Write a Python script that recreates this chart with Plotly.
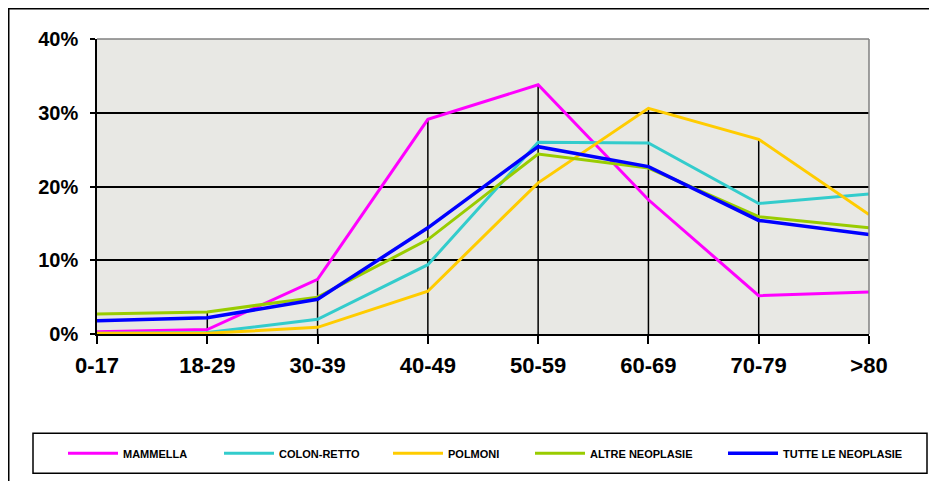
import plotly.graph_objects as go

# ---------------- data ----------------
age_groups = ["0-17", "18-29", "30-39", "40-49", "50-59", "60-69", "70-79", ">80"]
mammella = [0.3, 0.6, 7.4, 29.1, 33.8, 18.2, 5.2, 5.7]
colon_retto = [0.1, 0.2, 2.0, 9.4, 26.0, 25.9, 17.7, 19.0]
polmoni = [0.1, 0.1, 0.9, 5.8, 20.5, 30.6, 26.4, 16.2]
altre_neoplasie = [2.7, 3.0, 5.0, 12.8, 24.4, 22.5, 15.9, 14.4]
tutte_neoplasie = [1.8, 2.2, 4.7, 14.4, 25.4, 22.7, 15.4, 13.5]
y_ticks = [0, 10, 20, 30, 40]
y_tick_labels = ["0%", "10%", "20%", "30%", "40%"]

series = [
    ("MAMMELLA", mammella, "#FF00FF", 3, 91),
    ("COLON-RETTO", colon_retto, "#33CCCC", 3, 104),
    ("POLMONI", polmoni, "#FFCC00", 3, 77),
    ("ALTRE NEOPLASIE", altre_neoplasie, "#99CC00", 3, 128),
    ("TUTTE LE NEOPLASIE", tutte_neoplasie, "#0000FF", 3.5, 130),
]

# ---------------- layout geometry (pixels, page offset 8px by body margin) ----------------
OFF = 8
W, H = 937 - OFF, 481 - OFF
L, R = 97 - OFF, 869 - OFF
T, B = 39 - OFF, 334.5 - OFF
pw, ph = R - L, B - T


def px(xp):
    return (xp - L) / pw


def py(yp):
    return (B - yp) / ph


fig = go.Figure()

# drop lines from the highest value at each interior category
all_series = [mammella, colon_retto, polmoni, altre_neoplasie, tutte_neoplasie]
dx, dy = [], []
for i in range(1, len(age_groups) - 1):
    top = max(s[i] for s in all_series)
    dx += [age_groups[i], age_groups[i], None]
    dy += [0, top, None]
fig.add_trace(go.Scatter(x=dx, y=dy, mode="lines", line=dict(color="black", width=1.5),
                         showlegend=False, hoverinfo="skip"))

for name, vals, color, w, lw in series:
    fig.add_trace(go.Scatter(x=age_groups, y=vals, mode="lines", name=name,
                             line=dict(color=color, width=w), legendwidth=lw))

shapes = [
    # outer chart frame (cropped on right/bottom)
    dict(type="rect", xref="paper", yref="paper", x0=px(0.75), x1=px(W + 20), y0=py(H + 20), y1=py(0.75),
         line=dict(color="black", width=1.5), layer="below"),
    # legend box
    dict(type="rect", xref="paper", yref="paper", x0=px(33 - OFF), x1=px(927 - OFF),
         y0=py(474 - OFF), y1=py(434 - OFF),
         line=dict(color="black", width=1.5), layer="below"),
    # grey plot border (top & right)
    dict(type="line", xref="paper", yref="paper", x0=0, x1=1, y0=1, y1=1,
         line=dict(color="#808080", width=1.5), layer="above"),
    dict(type="line", xref="paper", yref="paper", x0=1, x1=1, y0=0, y1=1,
         line=dict(color="#808080", width=1.5), layer="above"),
]

fig.update_layout(
    width=W, height=H,
    margin=dict(l=L, r=W - R, t=T, b=H - B, pad=0),
    paper_bgcolor="white",
    plot_bgcolor="#e8e8e4",
    shapes=shapes,
    showlegend=True,
    legend=dict(orientation="h", x=px(63 - OFF), xanchor="left", y=py(454 - OFF), yanchor="middle",
                entrywidthmode="pixels", itemwidth=50,
                font=dict(family="Arial", size=11, color="black", weight="bold"),
                bgcolor="rgba(0,0,0,0)", borderwidth=0),
    xaxis=dict(type="category", categoryorder="array", categoryarray=age_groups,
               range=[0, len(age_groups) - 1], showgrid=False,
               showline=True, linecolor="black", linewidth=1.5,
               ticks="outside", ticklen=8, tickwidth=1.5, tickcolor="black",
               ticklabelstandoff=3,
               tickfont=dict(family="Arial", size=22, color="black", weight="bold"),
               zeroline=False),
    yaxis=dict(range=[0, 40], tickvals=y_ticks, ticktext=y_tick_labels,
               showgrid=True, gridcolor="black", gridwidth=1.5,
               showline=True, linecolor="black", linewidth=1.5,
               ticks="outside", ticklen=5, tickwidth=1.5, tickcolor="black",
               ticklabelstandoff=8,
               tickfont=dict(family="Arial", size=20, color="black", weight="bold"),
               zeroline=False),
)

fig.write_html("out.html")
